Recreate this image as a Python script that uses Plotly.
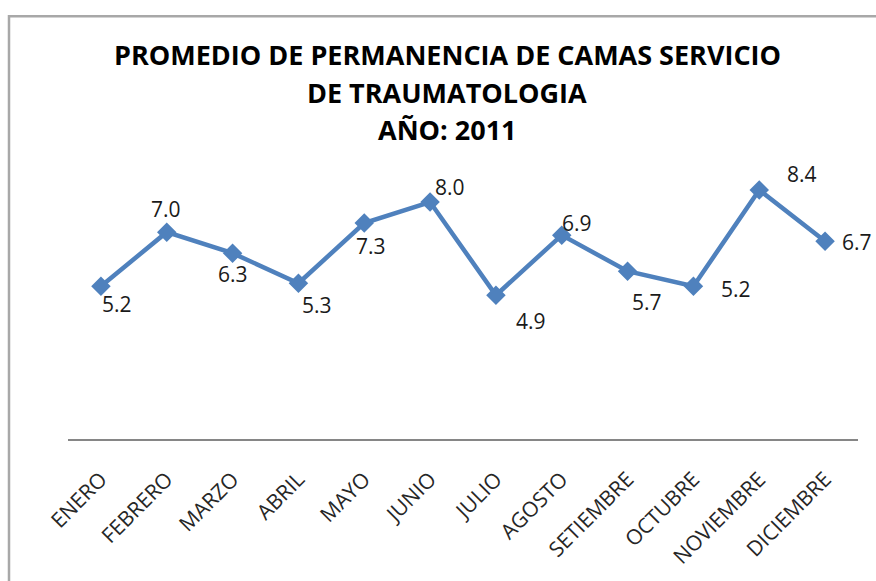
import plotly.graph_objects as go

months = ["ENERO", "FEBRERO", "MARZO", "ABRIL", "MAYO", "JUNIO", "JULIO",
          "AGOSTO", "SETIEMBRE", "OCTUBRE", "NOVIEMBRE", "DICIEMBRE"]
values = [5.2, 7.0, 6.3, 5.3, 7.3, 8.0, 4.9, 6.9, 5.7, 5.2, 8.4, 6.7]
title_lines = ["PROMEDIO DE PERMANENCIA DE CAMAS SERVICIO", "DE TRAUMATOLOGIA", "AÑO: 2011"]

# label offsets (px) relative to each point
label_dx = [16, -1, 0, 19, 7, 20, 35, 15, 19, 43, 43, 32]
label_dy = [-18, 23, -21, -22, -23, 15, -26, 12, -31, -3, 16, -1]

W, H = 876, 581
ML, MR, MT, MB = 68, 18, 172, 128
PW, PH = W - ML - MR, H - MT - MB

def px_to_paper(px, py):
    return (px - ML) / PW, (H - MB - py) / PH

fig = go.Figure()
fig.add_trace(go.Scatter(
    x=months, y=values, mode="lines+markers",
    line=dict(color="#4F81BD", width=4.5),
    marker=dict(symbol="diamond", size=15, color="#4F81BD"),
    hoverinfo="x+y", showlegend=False,
))

annotations = []
for m, v, dx, dy in zip(months, values, label_dx, label_dy):
    annotations.append(dict(
        x=m, y=v, xref="x", yref="y", text=f"{v:.1f}", showarrow=False,
        xshift=dx, yshift=dy, font=dict(family="Open Sans", size=21, color="#1a1a1a"),
    ))

title_y = [48, 88, 127]
for line, py in zip(title_lines, title_y):
    xp, yp = px_to_paper(447, py)
    annotations.append(dict(
        x=xp, y=yp, xref="paper", yref="paper", text=f"<b>{line}</b>",
        showarrow=False, xanchor="center", yanchor="middle",
        font=dict(family="Open Sans", size=27, color="#000000"),
    ))

x0, y0 = px_to_paper(9, 8)
x1, y1 = px_to_paper(885, 630)
fig.add_shape(type="rect", xref="paper", yref="paper", x0=x0, y0=y1, x1=x1, y1=y0,
              line=dict(color="#a8a8a8", width=2.5), fillcolor="rgba(0,0,0,0)", layer="below")

fig.update_layout(
    width=W, height=H,
    margin=dict(l=ML, r=MR, t=MT, b=MB),
    paper_bgcolor="white", plot_bgcolor="white",
    annotations=annotations,
    xaxis=dict(
        type="category", range=[-0.5, 11.5], showgrid=False, zeroline=False,
        showline=True, linecolor="#868686", linewidth=1.5, ticks="",
        tickangle=-45, tickfont=dict(family="Open Sans", size=21, color="#262626"),
        ticklabelstandoff=18,
    ),
    yaxis=dict(range=[0.12, 9], visible=False, showgrid=False, zeroline=False),
)

fig.write_html("out.html", config={"displayModeBar": False},
               post_script="document.body.style.margin='0';document.body.style.overflow='hidden';")
